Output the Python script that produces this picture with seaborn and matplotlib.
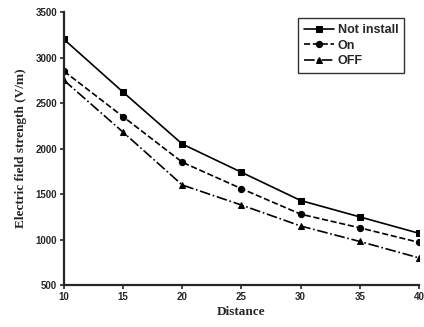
import matplotlib
matplotlib.use("Agg")
import matplotlib.pyplot as plt
import seaborn as sns
import pandas as pd

distance = [10, 15, 20, 25, 30, 35, 40]
not_install = [3200, 2620, 2050, 1740, 1430, 1250, 1070]
on_vals = [2850, 2350, 1850, 1560, 1280, 1130, 970]
off_vals = [2750, 2180, 1600, 1380, 1150, 980, 800]
series_names = ["Not install", "On", "OFF"]
y_ticks = [500, 1000, 1500, 2000, 2500, 3000, 3500]
x_ticks = [10, 15, 20, 25, 30, 35, 40]

sns.set_style("ticks")
plt.rcParams['font.family'] = ['Liberation Sans', 'DejaVu Sans']

fig = plt.figure(figsize=(4.24, 3.27), dpi=100)
ax = fig.add_axes([0.151, 0.128, 0.837, 0.835])

styles = [("-", "s"), ("--", "o"), ("-.", "^")]
for name, vals, (ls, mk) in zip(series_names, [not_install, on_vals, off_vals], styles):
    df = pd.DataFrame({"x": distance, "y": vals})
    sns.lineplot(data=df, x="x", y="y", ax=ax, color="black", linestyle=ls,
                 marker=mk, markersize=4.5, linewidth=1.2, label=name,
                 markeredgecolor="black")

ax.set_xlim(10, 40)
ax.set_ylim(500, 3500)
ax.set_xticks(x_ticks)
ax.set_yticks(y_ticks)
for lbl in ax.get_xticklabels() + ax.get_yticklabels():
    lbl.set_fontweight("bold")
    lbl.set_fontsize(7)
ax.tick_params(direction="out", length=3, width=1.2, pad=2)
for s in ["left", "bottom"]:
    ax.spines[s].set_linewidth(1.6)
sns.despine(ax=ax)

ax.set_xlabel("Distance", fontfamily="Liberation Serif", fontweight="bold", fontsize=9.5, labelpad=3)
ax.set_ylabel("Electric field strength (V/m)", fontfamily="Liberation Serif", fontweight="bold", fontsize=9.5, labelpad=6)

leg = ax.legend(loc="upper right", bbox_to_anchor=(0.975, 1.0), frameon=True, fancybox=False,
                edgecolor="black", fontsize=9, handlelength=2.4, borderpad=0.45,
                labelspacing=0.3, handletextpad=0.3)
leg.get_frame().set_linewidth(1.0)
for t in leg.get_texts():
    t.set_fontweight("bold")

fig.savefig("out.png", dpi=100)
